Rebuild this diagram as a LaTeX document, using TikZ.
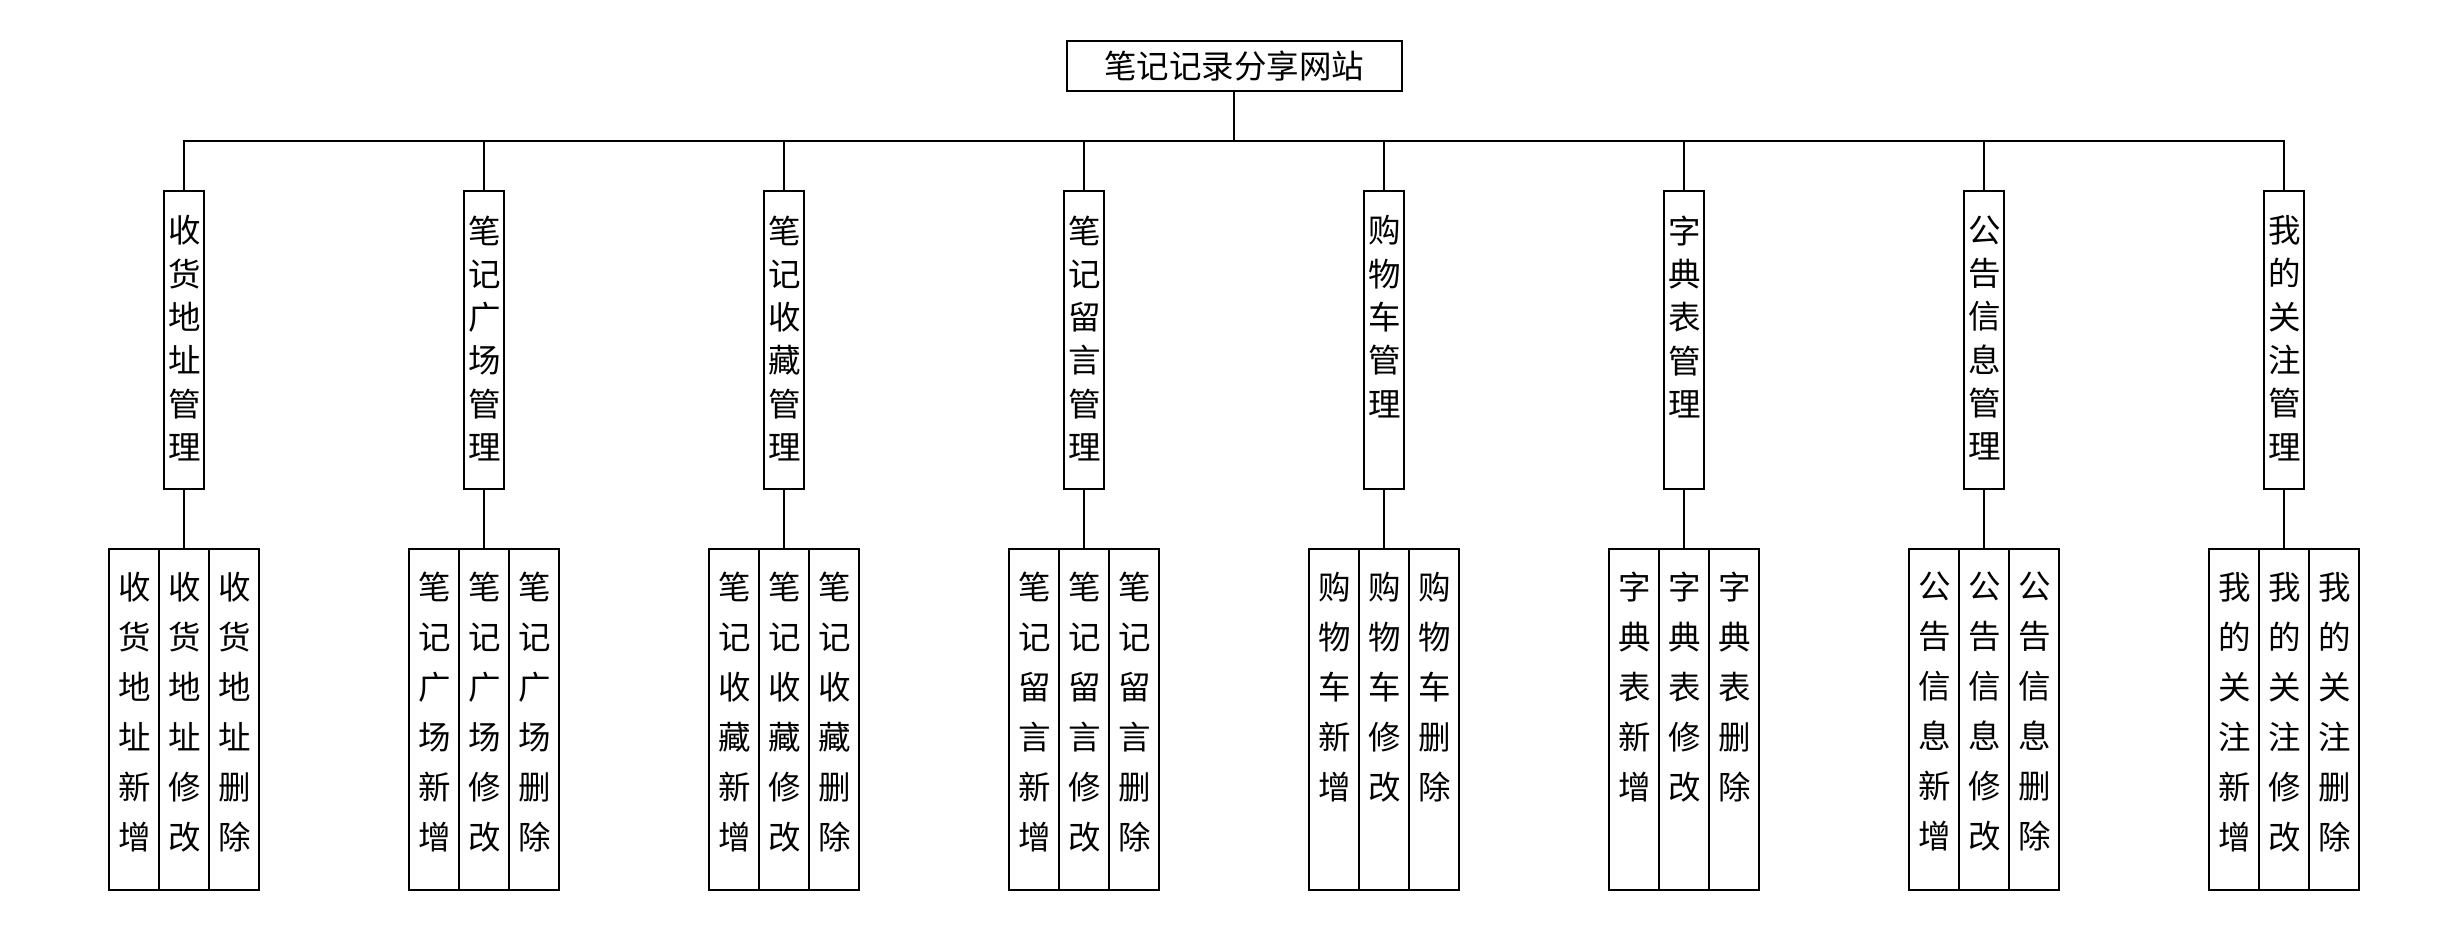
\documentclass[tikz,border=0pt]{standalone}
\usepackage{fontspec}
\setmainfont{Noto Sans CJK SC}
\begin{document}
\begin{tikzpicture}[x=0.02cm,y=-0.02cm,
  box/.style={draw=black, line width=1.1pt, inner sep=0pt},
  rootbox/.style={box, minimum width=6.7cm, minimum height=1cm, font=\fontsize{18.5}{24.6}\selectfont},
  midbox/.style={box, minimum width=0.8cm, minimum height=5.96cm},
  leafbox/.style={box, minimum width=1cm, minimum height=6.82cm},
  midtext/.style={anchor=north, inner sep=0pt, align=center, font=\fontsize{18.5}{24.64}\selectfont},
  leaftext/.style={anchor=north, inner sep=0pt, align=center, font=\fontsize{18.5}{28.45}\selectfont},
  link/.style={draw=black, line width=1.1pt}]
\useasboundingbox (0,0) rectangle (2454,946);
\node[rootbox] (root) at (1234.2,66.2) {笔记记录分享网站};
\coordinate (bus) at (1234.2,141.3);
\foreach \i/\p in {0/{收\\货\\地\\址}, 1/{笔\\记\\广\\场}, 2/{笔\\记\\收\\藏}, 3/{笔\\记\\留\\言}, 4/{购\\物\\车}, 5/{字\\典\\表}, 6/{公\\告\\信\\息}, 7/{我\\的\\关\\注}}{
  \pgfmathsetmacro\xx{184.3+300*\i}
  \node[midbox] (m\i) at (\xx,340.2) {};
  \node[midtext] (mt\i) at ([yshift=-0.5cm]m\i.north) {\p\\管\\理};
  \node[leafbox] (la\i) at (\xx-50,719.8) {};
  \node[leafbox] (lb\i) at (\xx,719.8) {};
  \node[leafbox] (lc\i) at (\xx+50,719.8) {};
  \node[leaftext] (lta\i) at ([yshift=-0.47cm]la\i.north) {\p\\新\\增};
  \node[leaftext] (ltb\i) at ([yshift=-0.47cm]lb\i.north) {\p\\修\\改};
  \node[leaftext] (ltc\i) at ([yshift=-0.47cm]lc\i.north) {\p\\删\\除};
  \draw[link] (root.south) -- (bus) -| (m\i.north);
  \draw[link] (m\i.south) -- (lb\i.north);
}
\end{tikzpicture}
\end{document}
